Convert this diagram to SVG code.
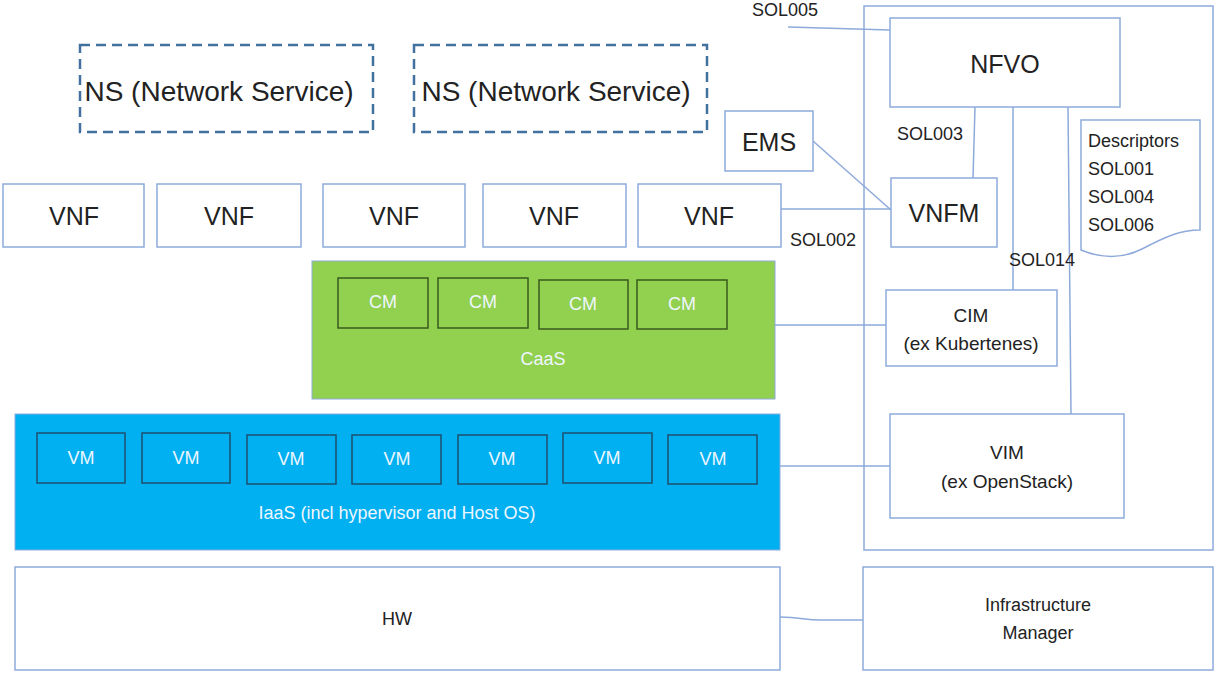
<svg xmlns="http://www.w3.org/2000/svg" width="1215" height="675" viewBox="0 0 1215 675">
<style>
.bx{fill:#fff;stroke:#8eaadb;stroke-width:1.5}
.ln{fill:none;stroke:#8eaadb;stroke-width:1.5}
.ns{fill:#fff;stroke:#41719c;stroke-width:2.5;stroke-dasharray:10 6}
.t{font-family:"Liberation Sans",Arial,sans-serif;fill:#222;text-anchor:middle;dominant-baseline:central}
.l{font-family:"Liberation Sans",Arial,sans-serif;fill:#222;font-size:18px}
.cm{fill:#92d050;stroke:#3a5a1e;stroke-width:1.5}
.vm{fill:#00b0f0;stroke:#1f4e6e;stroke-width:1.5}
.w{font-family:"Liberation Sans",Arial,sans-serif;fill:#eef6ff;text-anchor:middle;dominant-baseline:central;font-size:18px}
</style>
<rect x="0" y="0" width="1215" height="675" fill="#fff"/>
<g id="mano-frame"><rect x="864" y="6" width="349" height="544" class="bx"/></g>
<g id="connectors">
<line x1="788" y1="27" x2="890" y2="30" class="ln"/>
<line x1="975" y1="107" x2="973" y2="178" class="ln"/>
<line x1="1013" y1="107" x2="1013" y2="290" class="ln"/>
<line x1="1068" y1="107" x2="1071" y2="414" class="ln"/>
<line x1="813" y1="141" x2="891" y2="210" class="ln"/>
<line x1="781" y1="209" x2="891" y2="209" class="ln"/>
<line x1="775" y1="325" x2="886" y2="325" class="ln"/>
<line x1="780" y1="466" x2="890" y2="466" class="ln"/>
<path d="M780,617 C800,617 805,620 820,620 L863,620" class="ln"/>
</g>
<g id="labels">
<text x="752" y="16" class="l">SOL005</text>
<text x="897" y="140" class="l">SOL003</text>
<text x="790" y="246" class="l">SOL002</text>
<text x="1009" y="266" class="l">SOL014</text>
</g>
<g id="ns1"><rect x="80" y="45" width="293" height="87" class="ns"/><text x="219" y="91" class="t" font-size="28">NS (Network Service)</text></g>
<g id="ns2"><rect x="414" y="45" width="293" height="87" class="ns"/><text x="556" y="91" class="t" font-size="28">NS (Network Service)</text></g>
<g id="nfvo"><rect x="890" y="18" width="230" height="89" class="bx"/><text x="1005" y="64" class="t" font-size="25">NFVO</text></g>
<g id="ems"><rect x="725" y="111" width="88" height="60" class="bx"/><text x="769" y="142" class="t" font-size="25">EMS</text></g>
<g id="vnfm"><rect x="891" y="178" width="106" height="69" class="bx"/><text x="944" y="213" class="t" font-size="25">VNFM</text></g>
<g id="descriptors">
<path d="M1081,120 H1200 V230 C1180,230 1165,237 1142,249 C1120,260 1100,258 1081,250 Z" class="bx"/>
<text x="1088" y="147" class="l">Descriptors</text>
<text x="1088" y="175" class="l">SOL001</text>
<text x="1088" y="203" class="l">SOL004</text>
<text x="1088" y="231" class="l">SOL006</text>
</g>
<g id="vnf1"><rect x="3" y="184" width="141" height="63" class="bx"/><text x="74" y="216" class="t" font-size="25">VNF</text></g>
<g id="vnf2"><rect x="157" y="184" width="144" height="63" class="bx"/><text x="229" y="216" class="t" font-size="25">VNF</text></g>
<g id="vnf3"><rect x="323" y="184" width="142" height="63" class="bx"/><text x="394" y="216" class="t" font-size="25">VNF</text></g>
<g id="vnf4"><rect x="483" y="184" width="143" height="63" class="bx"/><text x="554" y="216" class="t" font-size="25">VNF</text></g>
<g id="vnf5"><rect x="638" y="184" width="143" height="63" class="bx"/><text x="709" y="216" class="t" font-size="25">VNF</text></g>
<g id="caas">
<rect x="312" y="261" width="463" height="138" fill="#92d050" stroke="#8eaadb" stroke-width="1"/>
<text x="543" y="359" class="w">CaaS</text>
</g>
<g id="cm1"><rect x="338" y="278" width="90" height="50" class="cm"/><text x="383" y="302" class="w">CM</text></g>
<g id="cm2"><rect x="438" y="278" width="90" height="50" class="cm"/><text x="483" y="302" class="w">CM</text></g>
<g id="cm3"><rect x="539" y="280" width="89" height="49" class="cm"/><text x="583" y="304" class="w">CM</text></g>
<g id="cm4"><rect x="637" y="280" width="90" height="49" class="cm"/><text x="682" y="304" class="w">CM</text></g>
<g id="cim"><rect x="886" y="290" width="171" height="76" class="bx"/><text x="971" y="315" class="t" font-size="19">CIM</text><text x="971" y="343" class="t" font-size="19">(ex Kubertenes)</text></g>
<g id="iaas">
<rect x="15" y="414" width="765" height="136" fill="#00b0f0" stroke="#8eaadb" stroke-width="1"/>
<text x="397" y="513" class="w" font-size="20">IaaS (incl hypervisor and Host OS)</text>
</g>
<g id="vm1"><rect x="37" y="433" width="88" height="50" class="vm"/><text x="81" y="458" class="w">VM</text></g>
<g id="vm2"><rect x="142" y="433" width="88" height="50" class="vm"/><text x="186" y="458" class="w">VM</text></g>
<g id="vm3"><rect x="247" y="435" width="89" height="49" class="vm"/><text x="291" y="459" class="w">VM</text></g>
<g id="vm4"><rect x="352" y="435" width="89" height="49" class="vm"/><text x="397" y="459" class="w">VM</text></g>
<g id="vm5"><rect x="458" y="435" width="89" height="49" class="vm"/><text x="502" y="459" class="w">VM</text></g>
<g id="vm6"><rect x="563" y="433" width="89" height="50" class="vm"/><text x="607" y="458" class="w">VM</text></g>
<g id="vm7"><rect x="668" y="435" width="89" height="49" class="vm"/><text x="713" y="459" class="w">VM</text></g>
<g id="vim"><rect x="890" y="414" width="234" height="104" class="bx"/><text x="1007" y="452" class="t" font-size="19">VIM</text><text x="1007" y="481" class="t" font-size="19">(ex OpenStack)</text></g>
<g id="hw"><rect x="15" y="567" width="765" height="103" class="bx"/><text x="397" y="619" class="t" font-size="18">HW</text></g>
<g id="infra-manager"><rect x="863" y="567" width="350" height="103" class="bx"/><text x="1038" y="605" class="t" font-size="18">Infrastructure</text><text x="1038" y="633" class="t" font-size="18">Manager</text></g>
</svg>
